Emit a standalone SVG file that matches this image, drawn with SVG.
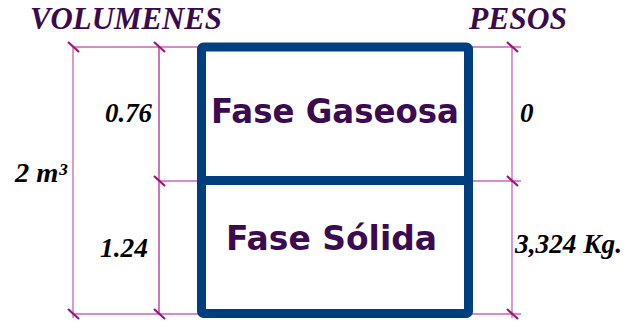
<svg xmlns="http://www.w3.org/2000/svg" width="635" height="324" viewBox="0 0 635 324">
<style>
.dim{stroke:#b01890;stroke-width:1.2;fill:none}
.dim2{stroke:#c870b8;stroke-width:1.4;fill:none}
.tick{stroke:#a0107f;stroke-width:2.2}
.hdr{font-family:"Liberation Serif",serif;font-weight:bold;font-style:italic;font-size:31px;fill:#3a0a4e}
.num{font-family:"Liberation Serif",serif;font-weight:bold;font-style:italic;font-size:27px;fill:#000}
.phase{font-family:"DejaVu Sans",Verdana,sans-serif;font-weight:bold;font-size:33px;fill:#3c0a50}
.box{fill:none;stroke:#003f7f;stroke-width:9;stroke-linejoin:round}
</style>
<rect width="635" height="324" fill="#fff"/>
<g id="connectors">
<line class="dim2" x1="73" y1="47" x2="73" y2="318"/>
<line class="dim" x1="159" y1="47" x2="159" y2="314"/>
<line class="dim" x1="73" y1="47" x2="200" y2="47"/>
<line class="dim" x1="159" y1="181" x2="200" y2="181"/>
<line class="dim" x1="73" y1="314" x2="200" y2="314"/>
<line class="dim2" x1="512" y1="47" x2="512" y2="318"/>
<line class="dim" x1="470" y1="47" x2="521" y2="47"/>
<line class="dim" x1="470" y1="181" x2="521" y2="181"/>
<line class="dim" x1="470" y1="314" x2="521" y2="314"/>
<g class="tick">
<line x1="68" y1="42" x2="79" y2="52"/>
<line x1="154" y1="42" x2="165" y2="52"/>
<line x1="154" y1="176" x2="165" y2="186"/>
<line x1="68" y1="309" x2="79" y2="319"/>
<line x1="154" y1="309" x2="165" y2="319"/>
<line x1="507" y1="42" x2="518" y2="52"/>
<line x1="507" y1="176" x2="518" y2="186"/>
<line x1="507" y1="309" x2="518" y2="319"/>
</g>
</g>
<g id="box">
<rect class="box" x="201.5" y="47" width="267" height="266.5" rx="2"/>
<line class="box" x1="201.5" y1="180.5" x2="468.5" y2="180.5"/>
</g>
<g id="fase-gaseosa"><text class="phase" x="211" y="123" textLength="248" lengthAdjust="spacingAndGlyphs">Fase Gaseosa</text></g>
<g id="fase-solida"><text class="phase" x="226" y="250" textLength="211" lengthAdjust="spacingAndGlyphs">Fase Sólida</text></g>
<g id="labels">
<text class="hdr" x="30" y="29" textLength="192" lengthAdjust="spacingAndGlyphs">VOLUMENES</text>
<text class="hdr" x="469" y="29" textLength="98" lengthAdjust="spacingAndGlyphs">PESOS</text>
<text class="num" x="105" y="122" textLength="47" lengthAdjust="spacingAndGlyphs">0.76</text>
<text class="num" x="100" y="257" textLength="48" lengthAdjust="spacingAndGlyphs">1.24</text>
<text class="num" x="15" y="182" textLength="52" lengthAdjust="spacingAndGlyphs">2 m³</text>
<text class="num" x="520" y="122">0</text>
<text class="num" x="515" y="253" textLength="107" lengthAdjust="spacingAndGlyphs">3,324 Kg.</text>
</g>
</svg>
